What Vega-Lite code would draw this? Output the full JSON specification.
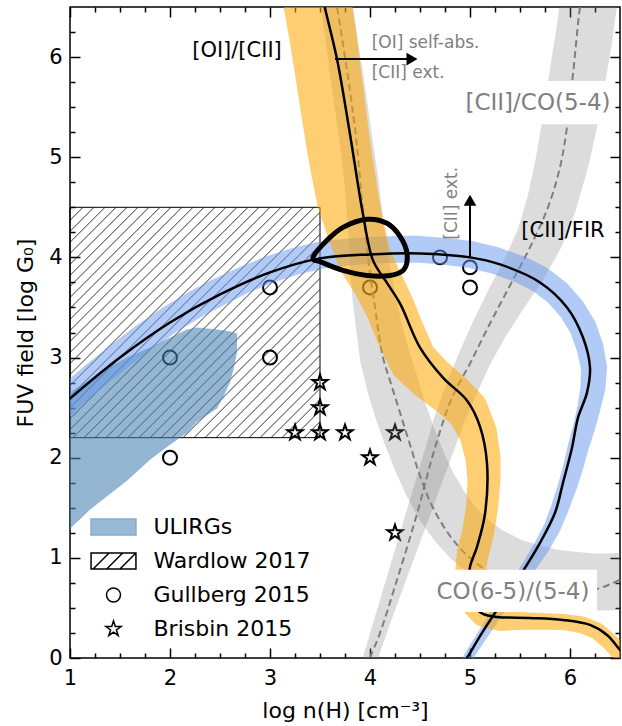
{
"$schema":"https://vega.github.io/schema/vega-lite/v6.json",
"width":550,"height":651,
"autosize":{"type":"none"},
"padding":{"left":70,"top":7,"right":2,"bottom":68},
"background":"white",
"config":{"font":"DejaVu Sans","view":{"stroke":"black","strokeWidth":1.5}},
"encoding":{
 "x":{"field":"x","type":"quantitative","scale":{"domain":[1,6.5],"nice":false,"zero":false},"axis":null},
 "y":{"field":"y","type":"quantitative","scale":{"domain":[0,6.5],"nice":false,"zero":false},"axis":null}
},
"resolve":{"axis":{"x":"independent","y":"independent"}},
"layer":[
{"data":{"values":[
 {"x":2,"y":3,"src":"Gullberg 2015"},{"x":2,"y":2,"src":"Gullberg 2015"},{"x":3,"y":3.7,"src":"Gullberg 2015"},{"x":3,"y":3,"src":"Gullberg 2015"},
 {"x":4,"y":3.7,"src":"Gullberg 2015"},{"x":4.7,"y":4.0,"src":"Gullberg 2015"},{"x":5,"y":3.9,"src":"Gullberg 2015"},{"x":5,"y":3.7,"src":"Gullberg 2015"},
 {"x":3.25,"y":2.25,"src":"Brisbin 2015"},{"x":3.5,"y":2.25,"src":"Brisbin 2015"},{"x":3.5,"y":2.5,"src":"Brisbin 2015"},{"x":3.5,"y":2.75,"src":"Brisbin 2015"},
 {"x":3.75,"y":2.25,"src":"Brisbin 2015"},{"x":4.0,"y":2.0,"src":"Brisbin 2015"},{"x":4.25,"y":2.25,"src":"Brisbin 2015"},{"x":4.25,"y":1.25,"src":"Brisbin 2015"}
 ]},
 "mark":{"type":"point","size":1156,"strokeWidth":2,"opacity":1,"clip":true},
 "encoding":{
  "shape":{"field":"src","type":"nominal","scale":{"domain":["ULIRGs","Wardlow 2017","Gullberg 2015","Brisbin 2015"],
    "range":["M-1.32,-0.47H1.32V0.47H-1.32Z",
             "M-1.32,-0.47H1.32V0.47H-1.32Z M-1.2,0.47L-0.26,-0.47 M-0.4,0.47L0.54,-0.47 M0.38,0.47L1.32,-0.47",
             "M0.41,0A0.41,0.41,0,1,1,-0.41,0A0.41,0.41,0,1,1,0.41,0Z",
             "M0,-0.47L0.106,-0.146L0.447,-0.145L0.171,0.056L0.276,0.38L0,0.18L-0.276,0.38L-0.171,0.056L-0.447,-0.145L-0.106,-0.146Z"]},
    "legend":{"title":null,"orient":"none","legendX":25.5,"legendY":502,"symbolSize":1156,"labelFontSize":22,"labelColor":"black","labelOffset":22,"rowPadding":5,"symbolStrokeWidth":1.5,"padding":0,"labelFont":"DejaVu Sans"}},
  "fill":{"field":"src","type":"nominal","scale":{"domain":["ULIRGs","Wardlow 2017","Gullberg 2015","Brisbin 2015"],"range":["#99bad6","white","transparent","transparent"]}},
  "stroke":{"field":"src","type":"nominal","scale":{"domain":["ULIRGs","Wardlow 2017","Gullberg 2015","Brisbin 2015"],"range":["#86abd0","black","black","black"]}}
 }},
{"data":{"values":[
 {"x":3.45,"y":2.2,"x2":3.5,"y2":2.25},{"x":3.34,"y":2.2,"x2":3.5,"y2":2.36},{"x":3.23,"y":2.2,"x2":3.5,"y2":2.47},{"x":3.12,"y":2.2,"x2":3.5,"y2":2.58},
 {"x":3.01,"y":2.2,"x2":3.5,"y2":2.69},{"x":2.9,"y":2.2,"x2":3.5,"y2":2.8},{"x":2.79,"y":2.2,"x2":3.5,"y2":2.91},{"x":2.68,"y":2.2,"x2":3.5,"y2":3.02},
 {"x":2.57,"y":2.2,"x2":3.5,"y2":3.13},{"x":2.46,"y":2.2,"x2":3.5,"y2":3.24},{"x":2.35,"y":2.2,"x2":3.5,"y2":3.35},{"x":2.24,"y":2.2,"x2":3.5,"y2":3.46},
 {"x":2.13,"y":2.2,"x2":3.5,"y2":3.57},{"x":2.02,"y":2.2,"x2":3.5,"y2":3.68},{"x":1.91,"y":2.2,"x2":3.5,"y2":3.79},{"x":1.8,"y":2.2,"x2":3.5,"y2":3.9},
 {"x":1.69,"y":2.2,"x2":3.5,"y2":4.01},{"x":1.58,"y":2.2,"x2":3.5,"y2":4.12},{"x":1.47,"y":2.2,"x2":3.5,"y2":4.23},{"x":1.36,"y":2.2,"x2":3.5,"y2":4.34},
 {"x":1.25,"y":2.2,"x2":3.5,"y2":4.45},{"x":1.14,"y":2.2,"x2":3.44,"y2":4.5},{"x":1.03,"y":2.2,"x2":3.33,"y2":4.5},{"x":1,"y":2.28,"x2":3.22,"y2":4.5},
 {"x":1,"y":2.39,"x2":3.11,"y2":4.5},{"x":1,"y":2.5,"x2":3.0,"y2":4.5},{"x":1,"y":2.61,"x2":2.89,"y2":4.5},{"x":1,"y":2.72,"x2":2.78,"y2":4.5},
 {"x":1,"y":2.83,"x2":2.67,"y2":4.5},{"x":1,"y":2.94,"x2":2.56,"y2":4.5},{"x":1,"y":3.05,"x2":2.45,"y2":4.5},{"x":1,"y":3.16,"x2":2.34,"y2":4.5},
 {"x":1,"y":3.27,"x2":2.23,"y2":4.5},{"x":1,"y":3.38,"x2":2.12,"y2":4.5},{"x":1,"y":3.49,"x2":2.01,"y2":4.5},{"x":1,"y":3.6,"x2":1.9,"y2":4.5},
 {"x":1,"y":3.71,"x2":1.79,"y2":4.5},{"x":1,"y":3.82,"x2":1.68,"y2":4.5},{"x":1,"y":3.93,"x2":1.57,"y2":4.5},{"x":1,"y":4.04,"x2":1.46,"y2":4.5},
 {"x":1,"y":4.15,"x2":1.35,"y2":4.5},{"x":1,"y":4.26,"x2":1.24,"y2":4.5},{"x":1,"y":4.37,"x2":1.13,"y2":4.5},{"x":1,"y":4.48,"x2":1.02,"y2":4.5}
 ]},
 "mark":{"type":"rule","color":"black","strokeWidth":0.8},
 "encoding":{"x2":{"field":"x2"},"y2":{"field":"y2"}}},
{"data":{"values":[{"x":1,"x2":3.5,"y":2.2,"y2":4.5}]},
 "mark":{"type":"rect","filled":false,"color":"black","strokeWidth":1},
 "encoding":{
  "x":{"field":"x","type":"quantitative","scale":{"domain":[1,6.5],"nice":false,"zero":false},
   "axis":{"orient":"bottom","values":[1,1.25,1.5,1.75,2,2.25,2.5,2.75,3,3.25,3.5,3.75,4,4.25,4.5,4.75,5,5.25,5.5,5.75,6,6.25],
    "domain":false,"grid":false,"tickColor":"black","tickWidth":1.5,
    "tickSize":{"condition":{"test":"datum.value % 1 === 0","value":-10},"value":-5},
    "labelExpr":"datum.value % 1 === 0 ? format(datum.value, 'd') : ''","labelFontSize":21,"labelColor":"black","labelPadding":19,"labelOverlap":false,"labelFlush":false,"labelBound":false,
    "title":"log n(H) [cm⁻³]","titleFontSize":22,"titleFontWeight":"normal","titleColor":"black","titlePadding":7}},
  "y":{"field":"y","type":"quantitative","scale":{"domain":[0,6.5],"nice":false,"zero":false},
   "axis":{"orient":"left","values":[0,0.25,0.5,0.75,1,1.25,1.5,1.75,2,2.25,2.5,2.75,3,3.25,3.5,3.75,4,4.25,4.5,4.75,5,5.25,5.5,5.75,6,6.25],
    "domain":false,"grid":false,"tickColor":"black","tickWidth":1.5,
    "tickSize":{"condition":{"test":"datum.value % 1 === 0","value":-10},"value":-5},
    "labelExpr":"datum.value % 1 === 0 ? format(datum.value, 'd') : ''","labelFontSize":21,"labelColor":"black","labelPadding":18,"labelOverlap":false,"labelFlush":false,"labelBound":false,
    "title":"FUV field [log G₀]","titleFontSize":22,"titleFontWeight":"normal","titleColor":"black","titlePadding":11}},
  "x2":{"field":"x2"},"y2":{"field":"y2"}}},
{"data":{"values":[
 {"x":1.0,"y":1.29,"y2":2.65},{"x":1.2,"y":1.48,"y2":2.78},{"x":1.3,"y":1.56,"y2":2.85},{"x":1.57,"y":1.77,"y2":3.0},
 {"x":1.8,"y":1.98,"y2":3.1},{"x":2.0,"y":2.13,"y2":3.2},{"x":2.17,"y":2.25,"y2":3.28},{"x":2.27,"y":2.36,"y2":3.3},
 {"x":2.47,"y":2.49,"y2":3.28},{"x":2.53,"y":2.6,"y2":3.27},{"x":2.6,"y":2.75,"y2":3.26},{"x":2.64,"y":2.9,"y2":3.25},{"x":2.67,"y":3.05,"y2":3.24}
 ]},
 "mark":{"type":"area","color":"steelblue","opacity":0.58,"clip":true},
 "encoding":{"y2":{"field":"y2"}}},
{"data":{"values":[
 {"x":3.65,"y":6.6},{"x":3.67,"y":6.5},{"x":3.78,"y":5.8},{"x":3.86,"y":5.2},{"x":3.92,"y":4.57},{"x":3.98,"y":4.0},{"x":4.05,"y":3.5},
 {"x":4.13,"y":3.0},{"x":4.2,"y":2.77},{"x":4.3,"y":2.45},{"x":4.4,"y":2.13},{"x":4.5,"y":1.82},{"x":4.62,"y":1.52},{"x":4.8,"y":1.22},
 {"x":5.0,"y":1.0},{"x":5.3,"y":0.8},{"x":5.7,"y":0.7},{"x":6.0,"y":0.67},{"x":6.27,"y":0.69},{"x":6.5,"y":0.78},{"x":6.6,"y":0.82}
 ]},
 "mark":{"type":"line","color":"#7f7f7f","strokeWidth":2,"strokeDash":[7,4],"interpolate":"catmull-rom","clip":true},
 "encoding":{"order":{"value":null}}},
{"data":{"values":[
 {"x":3.97,"y":-0.1},{"x":4.0,"y":0.0},{"x":4.1,"y":0.25},{"x":4.27,"y":0.78},{"x":4.47,"y":1.44},{"x":4.65,"y":2.1},{"x":4.82,"y":2.6},
 {"x":5.0,"y":2.94},{"x":5.2,"y":3.34},{"x":5.4,"y":3.72},{"x":5.6,"y":4.1},{"x":5.78,"y":4.5},{"x":5.9,"y":4.9},{"x":5.97,"y":5.3},
 {"x":6.03,"y":5.83},{"x":6.1,"y":6.5},{"x":6.12,"y":6.6}
 ]},
 "mark":{"type":"line","color":"#7f7f7f","strokeWidth":2,"strokeDash":[7,4],"interpolate":"catmull-rom","clip":true},
 "encoding":{"order":{"value":null}}},
{"data":{"values":[
 {"x":3.65,"y":6.62,"w":0.32},{"x":3.67,"y":6.5,"w":0.32},{"x":3.72,"y":6.15,"w":0.32},{"x":3.77,"y":5.8,"w":0.33},{"x":3.82,"y":5.45,"w":0.33},
 {"x":3.87,"y":5.1,"w":0.33},{"x":3.91,"y":4.8,"w":0.34},{"x":3.94,"y":4.5,"w":0.35},{"x":3.97,"y":4.2,"w":0.37},{"x":4.0,"y":3.9,"w":0.4},
 {"x":4.04,"y":3.6,"w":0.43},{"x":4.09,"y":3.3,"w":0.46},{"x":4.15,"y":3.0,"w":0.5},{"x":4.22,"y":2.75,"w":0.52},{"x":4.3,"y":2.48,"w":0.52},
 {"x":4.4,"y":2.2,"w":0.52},{"x":4.5,"y":1.95,"w":0.52},{"x":4.6,"y":1.73,"w":0.52},{"x":4.72,"y":1.52,"w":0.53},{"x":4.85,"y":1.34,"w":0.53},
 {"x":5.0,"y":1.18,"w":0.54},{"x":5.18,"y":1.04,"w":0.55},{"x":5.4,"y":0.93,"w":0.55},{"x":5.6,"y":0.86,"w":0.56},{"x":5.8,"y":0.81,"w":0.56},
 {"x":6.0,"y":0.78,"w":0.57},{"x":6.2,"y":0.76,"w":0.57},{"x":6.4,"y":0.76,"w":0.57},{"x":6.6,"y":0.77,"w":0.57}
 ]},
 "mark":{"type":"trail","color":"#808080","opacity":0.28,"clip":true},
 "encoding":{"size":{"field":"w","type":"quantitative","scale":{"type":"linear","domain":[0,1],"range":[0,100],"zero":true},"legend":null},"order":{"value":null}}},
{"data":{"values":[
 {"x":3.97,"y":-0.1,"w":0.14},{"x":4.02,"y":0.05,"w":0.15},{"x":4.1,"y":0.3,"w":0.16},{"x":4.2,"y":0.6,"w":0.18},{"x":4.3,"y":0.9,"w":0.2},
 {"x":4.4,"y":1.2,"w":0.22},{"x":4.5,"y":1.5,"w":0.24},{"x":4.6,"y":1.8,"w":0.26},{"x":4.7,"y":2.1,"w":0.28},{"x":4.8,"y":2.4,"w":0.3},
 {"x":4.92,"y":2.7,"w":0.32},{"x":5.05,"y":3.0,"w":0.33},{"x":5.2,"y":3.3,"w":0.36},{"x":5.37,"y":3.6,"w":0.4},{"x":5.55,"y":3.9,"w":0.44},
 {"x":5.7,"y":4.2,"w":0.47},{"x":5.82,"y":4.55,"w":0.5},{"x":5.92,"y":4.95,"w":0.53},{"x":5.99,"y":5.3,"w":0.55},{"x":6.04,"y":5.6,"w":0.56},
 {"x":6.09,"y":5.9,"w":0.57},{"x":6.14,"y":6.2,"w":0.57},{"x":6.18,"y":6.5,"w":0.57},{"x":6.2,"y":6.6,"w":0.57}
 ]},
 "mark":{"type":"trail","color":"#808080","opacity":0.28,"clip":true},
 "encoding":{"size":{"field":"w","type":"quantitative","scale":{"type":"linear","domain":[0,1],"range":[0,100],"zero":true},"legend":null},"order":{"value":null}}},
{"data":{"values":[
 {"x":0.85,"y":2.46,"w":0.28},{"x":1.0,"y":2.61,"w":0.28},{"x":1.25,"y":2.82,"w":0.28},{"x":1.5,"y":3.02,"w":0.28},{"x":1.75,"y":3.21,"w":0.28},
 {"x":2.0,"y":3.38,"w":0.28},{"x":2.25,"y":3.53,"w":0.28},{"x":2.5,"y":3.66,"w":0.28},{"x":2.75,"y":3.78,"w":0.27},{"x":3.0,"y":3.88,"w":0.27},
 {"x":3.25,"y":3.96,"w":0.27},{"x":3.5,"y":4.02,"w":0.27},{"x":3.75,"y":4.05,"w":0.27},{"x":4.0,"y":4.07,"w":0.27},{"x":4.25,"y":4.08,"w":0.27},
 {"x":4.5,"y":4.08,"w":0.27},{"x":4.75,"y":4.06,"w":0.27},{"x":5.0,"y":4.03,"w":0.27},{"x":5.25,"y":3.97,"w":0.27},{"x":5.5,"y":3.88,"w":0.27},
 {"x":5.7,"y":3.78,"w":0.27},{"x":5.88,"y":3.64,"w":0.27},{"x":6.02,"y":3.48,"w":0.27},{"x":6.13,"y":3.3,"w":0.27},{"x":6.2,"y":3.1,"w":0.27},
 {"x":6.24,"y":2.9,"w":0.26},{"x":6.23,"y":2.7,"w":0.25},{"x":6.19,"y":2.5,"w":0.23},{"x":6.14,"y":2.3,"w":0.22},{"x":6.08,"y":2.1,"w":0.21},
 {"x":6.03,"y":1.9,"w":0.2},{"x":5.97,"y":1.7,"w":0.19},{"x":5.9,"y":1.5,"w":0.18},{"x":5.82,"y":1.3,"w":0.17},{"x":5.71,"y":1.1,"w":0.16},
 {"x":5.58,"y":0.9,"w":0.14},{"x":5.44,"y":0.7,"w":0.13},{"x":5.3,"y":0.5,"w":0.12},{"x":5.17,"y":0.3,"w":0.11},{"x":5.04,"y":0.1,"w":0.1},{"x":4.95,"y":-0.05,"w":0.1}
 ]},
 "mark":{"type":"trail","color":"#6495ed","opacity":0.5,"clip":true},
 "encoding":{"size":{"field":"w","type":"quantitative","scale":{"type":"linear","domain":[0,1],"range":[0,100],"zero":true},"legend":null},"order":{"value":null}}},
{"data":{"values":[
 {"x":3.46,"y":6.62,"w":0.68},{"x":3.48,"y":6.5,"w":0.68},{"x":3.53,"y":6.2,"w":0.67},{"x":3.58,"y":5.85,"w":0.66},{"x":3.63,"y":5.5,"w":0.65},
 {"x":3.68,"y":5.15,"w":0.64},{"x":3.73,"y":4.85,"w":0.63},{"x":3.78,"y":4.57,"w":0.62},{"x":3.85,"y":4.3,"w":0.58},{"x":3.94,"y":4.0,"w":0.54},
 {"x":4.08,"y":3.74,"w":0.5},{"x":4.2,"y":3.5,"w":0.49},{"x":4.3,"y":3.25,"w":0.49},{"x":4.43,"y":2.97,"w":0.48},{"x":4.6,"y":2.8,"w":0.46},
 {"x":4.8,"y":2.64,"w":0.44},{"x":4.97,"y":2.48,"w":0.42},{"x":5.08,"y":2.25,"w":0.38},{"x":5.13,"y":2.0,"w":0.35},{"x":5.14,"y":1.77,"w":0.33},
 {"x":5.12,"y":1.5,"w":0.32},{"x":5.08,"y":1.25,"w":0.32},{"x":5.03,"y":1.05,"w":0.32},{"x":5.0,"y":0.85,"w":0.3},{"x":5.0,"y":0.68,"w":0.27},
 {"x":5.04,"y":0.52,"w":0.23},{"x":5.12,"y":0.42,"w":0.21},{"x":5.3,"y":0.37,"w":0.2},{"x":5.6,"y":0.37,"w":0.17},{"x":5.93,"y":0.36,"w":0.16},
 {"x":6.12,"y":0.33,"w":0.17},{"x":6.27,"y":0.27,"w":0.17},{"x":6.4,"y":0.16,"w":0.17},{"x":6.5,"y":0.05,"w":0.17},{"x":6.6,"y":-0.07,"w":0.17}
 ]},
 "mark":{"type":"trail","color":"#ffa500","opacity":0.55,"clip":true},
 "encoding":{"size":{"field":"w","type":"quantitative","scale":{"type":"linear","domain":[0,1],"range":[0,100],"zero":true},"legend":null},"order":{"value":null}}},
{"data":{"values":[
 {"x":0.9,"y":2.5},{"x":1.0,"y":2.59},{"x":1.5,"y":3.0},{"x":2.0,"y":3.35},{"x":2.5,"y":3.63},{"x":3.0,"y":3.85},{"x":3.5,"y":3.99},{"x":4.0,"y":4.03},
 {"x":4.5,"y":4.04},{"x":5.0,"y":4.0},{"x":5.3,"y":3.93},{"x":5.7,"y":3.75},{"x":5.97,"y":3.5},{"x":6.13,"y":3.2},{"x":6.2,"y":2.9},{"x":6.17,"y":2.65},
 {"x":6.08,"y":2.4},{"x":6.02,"y":2.1},{"x":5.93,"y":1.75},{"x":5.85,"y":1.45},{"x":5.7,"y":1.15},{"x":5.55,"y":0.9},{"x":5.4,"y":0.67},{"x":5.25,"y":0.45},
 {"x":5.12,"y":0.25},{"x":4.97,"y":0.0},{"x":4.92,"y":-0.08}
 ]},
 "mark":{"type":"line","color":"black","strokeWidth":2.5,"interpolate":"catmull-rom","clip":true},
 "encoding":{"order":{"value":null}}},
{"data":{"values":[
 {"x":3.53,"y":6.6},{"x":3.55,"y":6.49},{"x":3.67,"y":5.98},{"x":3.8,"y":5.23},{"x":3.93,"y":4.43},{"x":4.03,"y":3.97},{"x":4.16,"y":3.76},{"x":4.3,"y":3.54},
 {"x":4.5,"y":3.1},{"x":4.73,"y":2.8},{"x":4.97,"y":2.57},{"x":5.1,"y":2.31},{"x":5.17,"y":1.94},{"x":5.15,"y":1.44},{"x":5.07,"y":1.11},{"x":5.0,"y":0.91},
 {"x":4.99,"y":0.72},{"x":5.04,"y":0.52},{"x":5.13,"y":0.44},{"x":5.27,"y":0.41},{"x":5.6,"y":0.4},{"x":5.93,"y":0.38},{"x":6.2,"y":0.33},{"x":6.37,"y":0.23},
 {"x":6.5,"y":0.08},{"x":6.58,"y":-0.02}
 ]},
 "mark":{"type":"line","color":"black","strokeWidth":2.5,"interpolate":"catmull-rom","clip":true},
 "encoding":{"order":{"value":null}}},
{"data":{"values":[
 {"x":3.43,"y":4.0},{"x":3.57,"y":4.17},{"x":3.73,"y":4.3},{"x":3.97,"y":4.38},{"x":4.17,"y":4.34},{"x":4.3,"y":4.21},
 {"x":4.37,"y":4.04},{"x":4.34,"y":3.88},{"x":4.2,"y":3.82},{"x":3.97,"y":3.82},{"x":3.73,"y":3.87},{"x":3.52,"y":3.95}
 ]},
 "mark":{"type":"line","color":"black","strokeWidth":5,"interpolate":"cardinal-closed","clip":true},
 "encoding":{"order":{"value":null}}},
{"data":{"values":[{"x":3.65,"y":5.98,"x2":4.42,"y2":5.98},{"x":5.0,"y":4.0,"x2":5.0,"y2":4.57}]},
 "mark":{"type":"rule","color":"black","strokeWidth":2},
 "encoding":{"x2":{"field":"x2"},"y2":{"field":"y2"}}},
{"data":{"values":[{"x":4.42,"y":5.98}]},
 "mark":{"type":"point","shape":"triangle-right","filled":true,"color":"black","size":160,"opacity":1}},
{"data":{"values":[{"x":5.0,"y":4.57}]},
 "mark":{"type":"point","shape":"triangle-up","filled":true,"color":"black","size":160,"opacity":1}},
{"data":{"values":[{"x":4.66,"x2":6.27,"y":0.46,"y2":0.88},{"x":4.92,"x2":6.45,"y":5.33,"y2":5.76}]},
 "mark":{"type":"rect","color":"white","opacity":1},
 "encoding":{
  "x":{"field":"x","type":"quantitative","scale":{"domain":[1,6.5],"nice":false,"zero":false},
   "axis":{"orient":"top","values":[1,1.25,1.5,1.75,2,2.25,2.5,2.75,3,3.25,3.5,3.75,4,4.25,4.5,4.75,5,5.25,5.5,5.75,6,6.25],
    "domain":false,"grid":false,"labels":false,"title":null,"tickColor":"black","tickWidth":1.5,
    "tickSize":{"condition":{"test":"datum.value % 1 === 0","value":-10},"value":-5}}},
  "y":{"field":"y","type":"quantitative","scale":{"domain":[0,6.5],"nice":false,"zero":false},
   "axis":{"orient":"right","values":[0,0.25,0.5,0.75,1,1.25,1.5,1.75,2,2.25,2.5,2.75,3,3.25,3.5,3.75,4,4.25,4.5,4.75,5,5.25,5.5,5.75,6,6.25],
    "domain":false,"grid":false,"labels":false,"title":null,"tickColor":"black","tickWidth":1.5,
    "tickSize":{"condition":{"test":"datum.value % 1 === 0","value":-10},"value":-5}}},
  "x2":{"field":"x2"},"y2":{"field":"y2"}}},
{"data":{"values":[{"x":2.67,"y":6.06,"label":"[OI]/[CII]"},{"x":5.93,"y":4.26,"label":"[CII]/FIR"}]},
 "mark":{"type":"text","fontSize":21,"color":"black","align":"center","baseline":"middle"},
 "encoding":{"text":{"field":"label"}}},
{"data":{"values":[{"x":5.68,"y":5.54,"label":"[CII]/CO(5-4)"},{"x":5.43,"y":0.66,"label":"CO(6-5)/(5-4)"}]},
 "mark":{"type":"text","fontSize":23,"color":"#808080","align":"center","baseline":"middle"},
 "encoding":{"text":{"field":"label"}}},
{"data":{"values":[{"x":4.017,"y":6.14,"label":"[OI] self-abs."},{"x":4.017,"y":5.84,"label":"[CII] ext."}]},
 "mark":{"type":"text","fontSize":17,"color":"#808080","align":"left","baseline":"middle"},
 "encoding":{"text":{"field":"label"}}},
{"data":{"values":[{"x":4.82,"y":4.54,"label":"[CII] ext."}]},
 "mark":{"type":"text","fontSize":17,"color":"#808080","align":"center","baseline":"middle","angle":270},
 "encoding":{"text":{"field":"label"}}}
]
}
